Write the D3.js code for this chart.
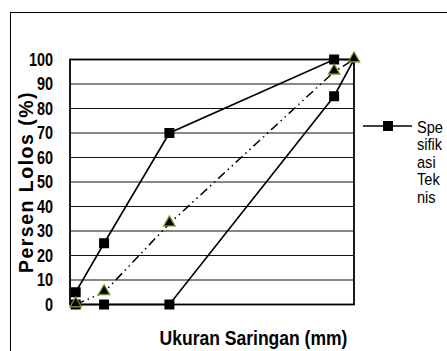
<!DOCTYPE html>
<html>
<head>
<meta charset="utf-8">
<script src="https://cdn.jsdelivr.net/npm/d3@7"></script>
<style>
  body { margin: 0; background: #fff; }
</style>
</head>
<body>
<div id="chart"></div>
<script>
const width = 447;
const height = 351;

// sieve positions (mm) and percent passing
const sieveSizes = [0.2, 1.2, 3.5, 9.3, 10];
const upperSpec = [5, 25, 70, 100, 100];
const lowerSpec = [0, 0, 0, 85, 100];
const gradation = [0, 5, 33, 95, 100];
const yTicks = [0, 10, 20, 30, 40, 50, 60, 70, 80, 90, 100];
const legendLines = ["Spe", "sifik", "asi", "Tek", "nis"];

const plotLeft = 70, plotRight = 354, plotTop = 59.5, plotBottom = 304.5;
const sans = "'Liberation Sans', Arial, sans-serif";

var svg = d3.select("#chart").append("svg")
    .attr("width", width)
    .attr("height", height);

const x = d3.scaleLinear().domain([0, 10]).range([plotLeft, plotRight]);
const y = d3.scaleLinear().domain([0, 100]).range([plotBottom, plotTop]);

// outer chart frame (cut off on the right and bottom)
svg.append("rect")
    .attr("x", 10.5).attr("y", 12.5)
    .attr("width", 460).attr("height", 360)
    .attr("fill", "none")
    .attr("stroke", "#000")
    .attr("stroke-width", 1);

// grid lines
svg.append("g")
    .selectAll("line")
    .data(yTicks)
    .enter().append("line")
    .attr("x1", plotLeft).attr("x2", plotRight)
    .attr("y1", d => y(d)).attr("y2", d => y(d))
    .attr("stroke", "#111")
    .attr("stroke-width", 1.2);

// plot border
svg.append("rect")
    .attr("x", plotLeft).attr("y", plotTop)
    .attr("width", plotRight - plotLeft).attr("height", plotBottom - plotTop)
    .attr("fill", "none")
    .attr("stroke", "#000")
    .attr("stroke-width", 1.8);

// y axis labels (condensed bold)
const squeeze = 0.78;
const yAxis = svg.append("g")
    .attr("transform", `translate(${plotLeft}, 0)`)
    .call(d3.axisLeft(y).tickValues(yTicks).tickSize(0).tickPadding(17));
yAxis.select(".domain").remove();
yAxis.selectAll("text")
    .attr("x", -17 / squeeze)
    .attr("transform", `scale(${squeeze},1)`)
    .style("font-family", sans)
    .style("font-weight", "bold")
    .style("font-size", "18.5px")
    .attr("fill", "#000");

svg.append("text")
    .attr("transform", "rotate(-90)")
    .attr("x", -182)
    .attr("y", 33)
    .text("Persen Lolos (%)")
    .style("font-family", sans)
    .style("font-weight", "bold")
    .style("font-size", "19.5px")
    .style("letter-spacing", "1.5px")
    .style("text-anchor", "middle");

svg.append("text")
    .attr("transform", "translate(253.5, 345) scale(0.835,1)")
    .text("Ukuran Saringan (mm)")
    .style("font-family", sans)
    .style("font-weight", "bold")
    .style("font-size", "21px")
    .style("text-anchor", "middle");

const line = d3.line()
    .x((d, i) => x(sieveSizes[i]))
    .y(d => y(d));

function drawSquares(values) {
    svg.append("g")
        .selectAll("rect")
        .data(values)
        .enter().append("rect")
        .attr("x", (d, i) => x(sieveSizes[i]) - 5)
        .attr("y", d => y(d) - 5)
        .attr("width", 10).attr("height", 10)
        .attr("fill", "#000");
}

[upperSpec, lowerSpec].forEach(s => {
    svg.append("path")
        .datum(s)
        .attr("d", line)
        .attr("fill", "none")
        .attr("stroke", "#000")
        .attr("stroke-width", 1.6);
});

svg.append("path")
    .datum(gradation)
    .attr("d", line)
    .attr("fill", "none")
    .attr("stroke", "#000")
    .attr("stroke-width", 1.5)
    .attr("stroke-dasharray", "9,4,1.5,4,1.5,4");

drawSquares(upperSpec.slice(0, 4));
drawSquares(lowerSpec.slice(0, 4));

svg.append("g")
    .selectAll("path")
    .data(gradation)
    .enter().append("path")
    .attr("d", d3.symbol().type(d3.symbolTriangle).size(55))
    .attr("transform", (d, i) => `translate(${x(sieveSizes[i])}, ${y(d) - 1})`)
    .attr("fill", "#000")
    .attr("stroke", "#6b8e23")
    .attr("stroke-width", 1.3);

// legend (cut off at the right edge)
const legend = svg.append("g").attr("transform", "translate(363, 126)");
legend.append("line")
    .attr("x1", 0).attr("x2", 49)
    .attr("y1", 0).attr("y2", 0)
    .attr("stroke", "#000").attr("stroke-width", 1.6);
legend.append("rect")
    .attr("x", 20).attr("y", -5)
    .attr("width", 10).attr("height", 10)
    .attr("fill", "#000");
legend.selectAll("text")
    .data(legendLines)
    .enter().append("text")
    .attr("transform", (d, i) => `translate(54, ${i * 17.5 + 6.5}) scale(0.84,1)`)
    .text(d => d)
    .style("font-family", sans)
    .style("font-size", "17.4px");
</script>
</body>
</html>
